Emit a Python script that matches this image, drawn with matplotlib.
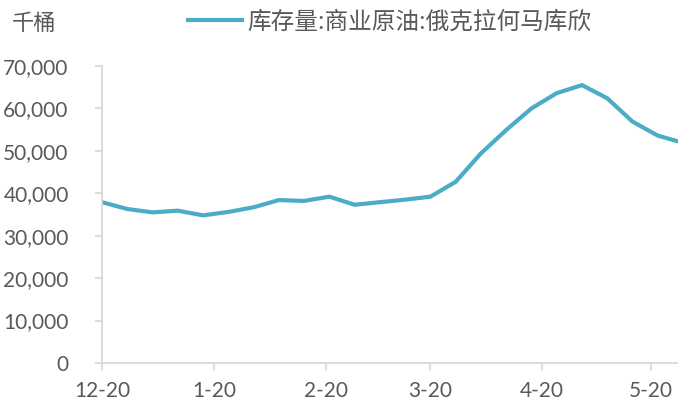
import matplotlib
matplotlib.use("Agg")
import matplotlib.pyplot as plt
import matplotlib.dates as mdates
from matplotlib.lines import Line2D
from matplotlib.ticker import FuncFormatter
import pandas as pd

# Weekly commercial crude stocks at Cushing, Oklahoma (thousand barrels)
dates = pd.date_range("2019-12-01", periods=24, freq="7D")
stocks = [37900, 36300, 35500, 35900, 34800, 35600, 36700, 38400, 38200, 39200,
          37300, 37900, 38500, 39200, 42700, 49400, 54900, 60000, 63600, 65500,
          62400, 56900, 53600, 51900]
month_ticks = pd.to_datetime(["2019-12-01", "2020-01-01", "2020-02-01",
                              "2020-03-01", "2020-04-01", "2020-05-01"])
month_labels = ["12-20", "1-20", "2-20", "3-20", "4-20", "5-20"]
series_name = "库存量:商业原油:俄克拉何马库欣"
unit_label = "千桶"

LINE = "#4bacc6"
TEXT = "#595959"
AXIS = "#d9d9d9"
CJK = ["Noto Sans CJK SC", "DejaVu Sans"]

fig = plt.figure(figsize=(6.78, 4.03), dpi=100)
ax = fig.add_axes([102 / 678, 40 / 403, 581 / 678, 297 / 403])

ax.plot(dates, stocks, color=LINE, lw=3.0, solid_joinstyle="miter", clip_on=True)

ax.set_xlim(dates[0], dates[-1])
ax.set_ylim(0, 70000)
ax.set_yticks(range(0, 70001, 10000))
ax.yaxis.set_major_formatter(FuncFormatter(lambda v, p: f"{int(v):,}"))
ax.set_xticks(month_ticks)
ax.set_xticklabels(month_labels)

for side in ("top", "right"):
    ax.spines[side].set_visible(False)
for side in ("left", "bottom"):
    ax.spines[side].set_color(AXIS)
    ax.spines[side].set_linewidth(1.3)

ax.tick_params(axis="y", direction="out", length=5, width=1.3, color=AXIS,
               labelcolor=TEXT, labelsize=15, pad=19)
ax.tick_params(axis="x", direction="out", length=6, width=1.3, color=AXIS,
               labelcolor=TEXT, labelsize=15, pad=7)
for lab in ax.get_xticklabels() + ax.get_yticklabels():
    lab.set_fontfamily("Lato")

fig.text(12 / 678, 1 - 24 / 403, unit_label, family=CJK, fontsize=16,
         color=TEXT, ha="left", va="center")

handle = Line2D([], [], color=LINE, lw=3.0)
fig.legend([handle], [series_name], loc="center left",
           bbox_to_anchor=(188 / 678, 1 - 22 / 403), frameon=False,
           borderpad=0, borderaxespad=0, handlelength=2.3, handletextpad=0.2,
           prop={"family": CJK, "size": 17}, labelcolor=TEXT)

fig.savefig("out.png", dpi=100)
